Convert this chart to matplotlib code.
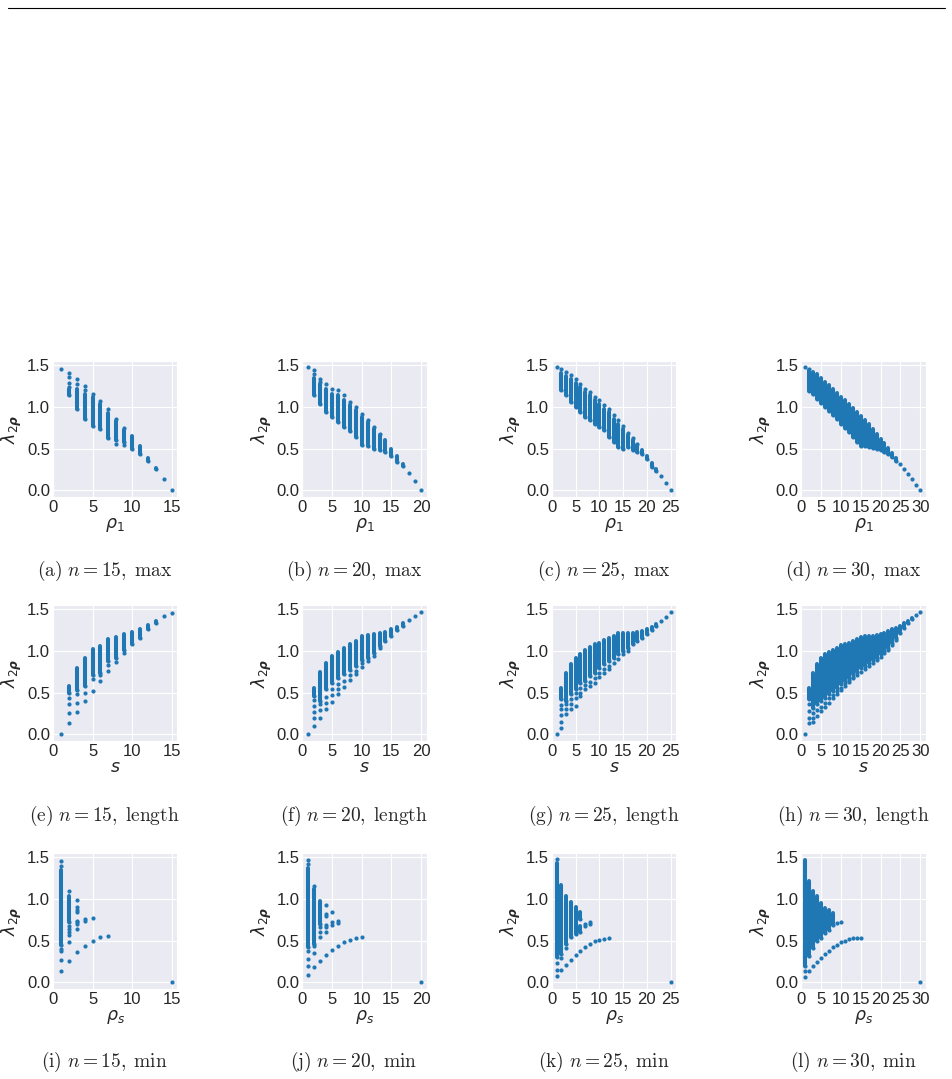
import matplotlib

matplotlib.use("Agg")
import matplotlib.pyplot as plt
import seaborn as sns
from matplotlib.lines import Line2D
from matplotlib.ticker import MultipleLocator

# ---- data ------------------------------------------------------------------
# each panel: dense columns (x, lo, hi) and extra single points (px, py)

# (a) n=15, max
A_X = [1, 2, 3, 4, 5, 6, 7, 8, 9, 10, 11, 12, 13, 14, 15]
A_LO = [1.46, 1.14, 0.98, 0.86, 0.77, 0.73, 0.63, 0.60, 0.58, 0.49, 0.43, 0.35, 0.25, 0.14, 0.0]
A_HI = [1.46, 1.21, 1.22, 1.16, 1.12, 1.04, 0.93, 0.83, 0.72, 0.65, 0.53, 0.39, 0.27, 0.14, 0.0]
A_PX = [2, 2, 2, 2, 3, 3, 4, 4, 5, 6, 7, 8, 8, 9, 9]
A_PY = [1.41, 1.36, 1.29, 1.24, 1.33, 1.27, 1.25, 1.20, 1.16, 1.07, 0.97, 0.86, 0.56, 0.75, 0.54]

# (b) n=20, max
B_X = list(range(1, 21))
B_LO = [1.48, 1.14, 1.04, 0.94, 0.88, 0.82, 0.76, 0.71, 0.64, 0.54, 0.53, 0.50, 0.48, 0.46, 0.41,
        0.34, 0.29, 0.21, 0.11, 0.0]
B_HI = [1.48, 1.35, 1.27, 1.22, 1.16, 1.14, 1.08, 1.02, 0.96, 0.88, 0.82, 0.74, 0.66, 0.60, 0.50,
        0.41, 0.32, 0.21, 0.11, 0.0]
B_PX = [2, 2, 3, 3, 4, 5, 6, 7, 8, 9, 10, 11, 12, 13]
B_PY = [1.44, 1.40, 1.33, 1.30, 1.27, 1.21, 1.20, 1.14, 1.06, 1.00, 0.92, 0.84, 0.76, 0.68]

# (c) n=25, max
C_X = list(range(1, 26))
C_LO = [1.48, 1.20, 1.14, 1.06, 1.00, 0.94, 0.88, 0.84, 0.80, 0.76, 0.72, 0.64, 0.58, 0.52, 0.49,
        0.52, 0.48, 0.46, 0.43, 0.37, 0.28, 0.23, 0.17, 0.09, 0.0]
C_HI = [1.48, 1.41, 1.37, 1.33, 1.29, 1.24, 1.18, 1.14, 1.08, 1.04, 0.98, 0.94, 0.86, 0.80, 0.74,
        0.66, 0.60, 0.54, 0.48, 0.41, 0.33, 0.25, 0.17, 0.09, 0.0]
C_PX = [2, 3, 4, 5, 6, 7, 8, 9, 10, 11, 12, 13, 14, 15, 16, 17, 18]
C_PY = [1.46, 1.42, 1.38, 1.33, 1.27, 1.22, 1.18, 1.12, 1.08, 1.02, 0.97, 0.90, 0.84, 0.77, 0.69,
        0.63, 0.56]

# (d) n=30, max
D_X = list(range(1, 31))
D_LO = [1.48, 1.19, 1.15, 1.10, 1.05, 1.00, 0.95, 0.90, 0.85, 0.80, 0.75, 0.70, 0.64, 0.58, 0.53,
        0.53, 0.52, 0.51, 0.50, 0.48, 0.46, 0.44, 0.40, 0.35, 0.31, 0.25, 0.19, 0.13, 0.06, 0.0]
D_HI = [1.48, 1.44, 1.42, 1.39, 1.35, 1.30, 1.26, 1.21, 1.17, 1.12, 1.08, 1.03, 0.99, 0.94, 0.89,
        0.84, 0.79, 0.74, 0.68, 0.62, 0.57, 0.51, 0.45, 0.39, 0.31, 0.25, 0.19, 0.13, 0.06, 0.0]
D_PX = [2]
D_PY = [1.46]

# (e) n=15, length
E_X = list(range(1, 16))
E_LO = [0.0, 0.50, 0.53, 0.575, 0.71, 0.74, 0.88, 0.92, 1.01, 1.08, 1.16, 1.26, 1.34, 1.42, 1.46]
E_HI = [0.0, 0.575, 0.80, 0.91, 1.02, 1.06, 1.14, 1.17, 1.20, 1.23, 1.26, 1.31, 1.36, 1.42, 1.46]
E_PX = [2, 2, 2, 2, 3, 3, 3, 4, 4, 5, 5, 6, 6, 7, 7, 8, 9]
E_PY = [0.44, 0.36, 0.26, 0.14, 0.48, 0.38, 0.27, 0.50, 0.40, 0.66, 0.52, 0.71, 0.64, 0.83, 0.76,
        0.87, 0.97]

# (f) n=20, length
F_X = list(range(1, 21))
F_LO = [0.0, 0.46, 0.40, 0.54, 0.62, 0.68, 0.72, 0.77, 0.82, 0.89, 0.92, 0.98, 1.06, 1.12, 1.18,
        1.25, 1.30, 1.37, 1.42, 1.47]
F_HI = [0.0, 0.55, 0.75, 0.86, 0.94, 0.99, 1.04, 1.08, 1.12, 1.18, 1.19, 1.20, 1.22, 1.23, 1.26,
        1.29, 1.33, 1.37, 1.42, 1.47]
F_PX = [2, 2, 2, 2, 2, 3, 3, 3, 4, 4, 4, 5, 5, 5, 6, 6, 6, 7, 7, 8, 8, 9, 9, 10, 10, 11, 12, 13]
F_PY = [0.41, 0.34, 0.27, 0.19, 0.10, 0.36, 0.29, 0.20, 0.45, 0.38, 0.30, 0.54, 0.47, 0.39, 0.60,
        0.54, 0.48, 0.64, 0.57, 0.71, 0.65, 0.76, 0.72, 0.85, 0.81, 0.88, 0.94, 1.03]

# (g) n=25, length
G_X = list(range(1, 26))
G_LO = [0.0, 0.42, 0.40, 0.48, 0.54, 0.62, 0.64, 0.70, 0.74, 0.80, 0.84, 0.88, 0.92, 0.96, 1.00,
        1.04, 1.08, 1.12, 1.16, 1.20, 1.25, 1.30, 1.36, 1.41, 1.47]
G_HI = [0.0, 0.55, 0.74, 0.84, 0.92, 0.96, 1.01, 1.05, 1.08, 1.10, 1.13, 1.16, 1.18, 1.21, 1.22,
        1.22, 1.22, 1.23, 1.24, 1.26, 1.29, 1.32, 1.36, 1.41, 1.47]
G_PX = [2, 2, 2, 2, 2, 3, 3, 3, 4, 4, 4, 5, 5, 5, 6, 6, 6, 7, 7, 8, 8, 9, 9, 10, 10, 11, 11, 12,
        12, 13, 14, 15, 16]
G_PY = [0.35, 0.30, 0.23, 0.15, 0.08, 0.36, 0.30, 0.24, 0.42, 0.36, 0.30, 0.49, 0.44, 0.34, 0.56,
        0.50, 0.46, 0.59, 0.54, 0.63, 0.58, 0.68, 0.62, 0.74, 0.69, 0.78, 0.74, 0.82, 0.78, 0.86,
        0.90, 0.96, 1.00]

# (h) n=30, length
H_X = list(range(1, 31))
H_LO = [0.0, 0.42, 0.32, 0.36, 0.40, 0.44, 0.48, 0.52, 0.56, 0.60, 0.64, 0.68, 0.72, 0.75, 0.79,
        0.82, 0.86, 0.89, 0.92, 0.96, 1.00, 1.04, 1.10, 1.15, 1.21, 1.27, 1.33, 1.38, 1.43, 1.47]
H_HI = [0.0, 0.55, 0.74, 0.84, 0.91, 0.96, 0.99, 1.01, 1.04, 1.07, 1.08, 1.10, 1.12, 1.14, 1.17,
        1.18, 1.18, 1.18, 1.19, 1.20, 1.22, 1.24, 1.26, 1.28, 1.30, 1.33, 1.36, 1.40, 1.43, 1.47]
H_PX = [2, 2, 2, 2, 3, 3, 3, 4, 4, 5, 5, 6, 6, 7, 7, 8, 8, 9, 9, 10, 10, 11, 11, 12, 12, 13, 13,
        14, 15, 16, 17, 18, 19, 20, 21, 22, 23, 24]
H_PY = [0.36, 0.28, 0.20, 0.13, 0.26, 0.20, 0.15, 0.29, 0.22, 0.33, 0.28, 0.38, 0.33, 0.43, 0.38,
        0.47, 0.43, 0.52, 0.48, 0.56, 0.53, 0.61, 0.58, 0.65, 0.63, 0.69, 0.67, 0.71, 0.75, 0.78,
        0.82, 0.86, 0.89, 0.93, 0.97, 1.01, 1.07, 1.13]

# (i) n=15, min
I_X = [1, 2, 15]
I_LO = [0.45, 0.72, 0.0]
I_HI = [1.35, 1.04, 0.0]
I_PX = [1, 1, 1, 1, 1, 1, 2, 2, 2, 2, 2, 2, 2, 3, 3, 3, 3, 3, 3, 3, 3, 3, 4, 4, 4, 5, 5, 6, 7]
I_PY = [1.46, 1.40, 0.40, 0.38, 0.27, 0.14, 1.10, 0.68, 0.64, 0.60, 0.57, 0.48, 0.26, 0.99, 0.90,
        0.87, 0.84, 0.74, 0.72, 0.70, 0.64, 0.36, 0.76, 0.74, 0.43, 0.77, 0.50, 0.54, 0.56]

# (j) n=20, min
J_X = [1, 2, 3, 20]
J_LO = [0.42, 0.46, 0.70, 0.0]
J_HI = [1.37, 1.12, 0.98, 0.0]
J_PX = [1, 1, 1, 1, 1, 1, 2, 2, 2, 2, 3, 3, 3, 3, 4, 4, 4, 4, 4, 4, 4, 5, 5, 5, 5, 6, 6, 6, 7, 8,
        9, 10]
J_PY = [1.47, 1.42, 0.37, 0.28, 0.19, 0.09, 1.16, 0.43, 0.35, 0.18, 0.66, 0.60, 0.54, 0.26, 0.93,
        0.82, 0.80, 0.69, 0.66, 0.60, 0.33, 0.84, 0.72, 0.69, 0.39, 0.73, 0.71, 0.44, 0.48, 0.51,
        0.53, 0.54]

# (k) n=25, min
K_X = [1, 2, 3, 4, 5, 6, 6, 25]
K_LO = [0.30, 0.34, 0.46, 0.54, 0.58, 0.76, 0.60, 0.0]
K_HI = [1.43, 1.17, 1.04, 0.96, 0.90, 0.84, 0.68, 0.0]
K_PX = [1, 1, 1, 1, 2, 2, 3, 3, 4, 5, 6, 7, 7, 7, 8, 8, 8, 9, 10, 11, 12]
K_PY = [1.48, 0.23, 0.15, 0.07, 0.29, 0.15, 0.41, 0.21, 0.27, 0.33, 0.38, 0.70, 0.68, 0.42, 0.72,
        0.70, 0.46, 0.49, 0.51, 0.52, 0.53]

# (l) n=30, min
L_X = [1, 2, 3, 4, 5, 6, 7, 8, 30]
L_LO = [0.19, 0.31, 0.41, 0.49, 0.53, 0.59, 0.63, 0.69, 0.0]
L_HI = [1.47, 1.21, 1.09, 1.03, 0.95, 0.89, 0.87, 0.83, 0.0]
L_PX = [1, 1, 2, 3, 4, 5, 6, 7, 8, 9, 9, 10, 10, 11, 12, 13, 14, 15]
L_PY = [0.13, 0.06, 0.13, 0.19, 0.24, 0.29, 0.34, 0.38, 0.42, 0.71, 0.45, 0.72, 0.48, 0.50, 0.52,
        0.53, 0.53, 0.53]

SIZES = [15, 20, 25, 30]
KINDS = ["max", "length", "min"]
XLABELS = [r"$\rho_1$", r"$s$", r"$\rho_s$"]
LETTERS = "abcdefghijkl"

PANELS = [
    (A_X, A_LO, A_HI, A_PX, A_PY), (B_X, B_LO, B_HI, B_PX, B_PY),
    (C_X, C_LO, C_HI, C_PX, C_PY), (D_X, D_LO, D_HI, D_PX, D_PY),
    (E_X, E_LO, E_HI, E_PX, E_PY), (F_X, F_LO, F_HI, F_PX, F_PY),
    (G_X, G_LO, G_HI, G_PX, G_PY), (H_X, H_LO, H_HI, H_PX, H_PY),
    (I_X, I_LO, I_HI, I_PX, I_PY), (J_X, J_LO, J_HI, J_PX, J_PY),
    (K_X, K_LO, K_HI, K_PX, K_PY), (L_X, L_LO, L_HI, L_PX, L_PY),
]

# ---- figure -----------------------------------------------------------------
sns.set_style("darkgrid")
plt.rcParams["font.family"] = ["Liberation Sans", "DejaVu Sans"]
plt.rcParams["mathtext.fontset"] = "dejavusans"

W, H = 953, 1079
fig = plt.figure(figsize=(W / 100, H / 100), dpi=100)

BLUE = "#1f77b4"
COL_LEFT = [53, 302.5, 552, 801.5]
ROW_TOP = [361, 605, 853]
AX_W, AX_H = 124.5, 136
CAP_Y = [571, 816, 1062]
CAP_X = [104.5, 354, 603.5, 853]

fig.add_artist(Line2D([8 / W, 945 / W], [1 - 8 / H, 1 - 8 / H], color="black", lw=0.8))

for r in range(3):
    for c in range(4):
        idx = r * 4 + c
        n = SIZES[c]
        xs, lo, hi, px, py = PANELS[idx]
        ax = fig.add_axes([COL_LEFT[c] / W, 1 - (ROW_TOP[r] + AX_H) / H, AX_W / W, AX_H / H])
        ax.vlines(xs, lo, hi, colors=BLUE, linewidth=2.9, capstyle="round")
        ax.scatter(xs + px, lo + py, s=9, color=BLUE, linewidths=0)
        ax.set_xlim(0, n + 0.05 * (n - 1) + 0.05)
        ax.set_ylim(-0.08, 1.55)
        ax.xaxis.set_major_locator(MultipleLocator(5))
        ax.set_yticks([0.0, 0.5, 1.0, 1.5])
        ax.tick_params(labelsize=12, length=0, pad=2, colors="#262626")
        ax.set_xlabel(XLABELS[r], fontsize=12.5, labelpad=1)
        ax.set_ylabel(r"$\lambda_{2\boldsymbol{\rho}}$", fontsize=12.5, labelpad=2)
        cap = r"$\mathrm{(%s)}\ n = %d,\;\mathrm{%s}$" % (LETTERS[idx], n, KINDS[r])
        fig.text(CAP_X[c] / W, 1 - CAP_Y[r] / H, cap, ha="center", va="center",
                 fontsize=14, math_fontfamily="cm")

fig.savefig("out.png", dpi=100)
